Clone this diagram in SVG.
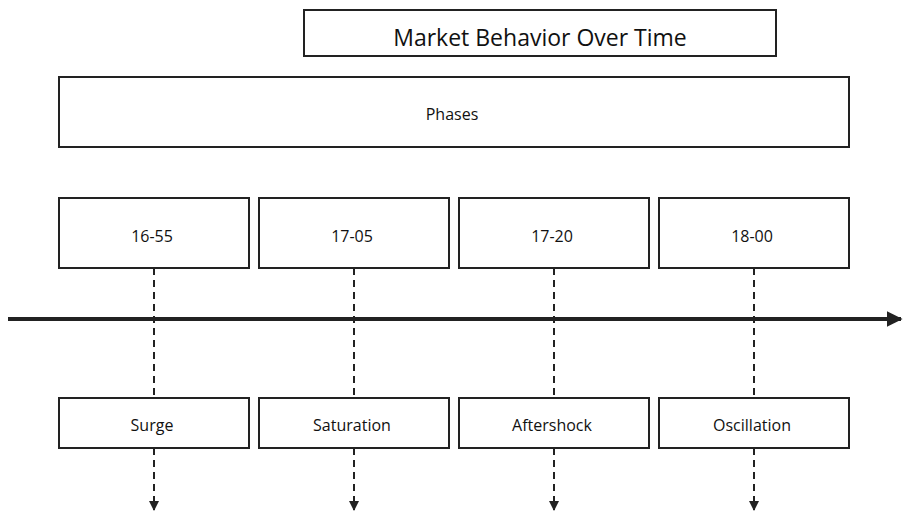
<svg xmlns="http://www.w3.org/2000/svg" width="909" height="520" viewBox="0 0 909 520">
<style>
.b{fill:#fff;stroke:#222;stroke-width:2}
.t{font-family:"Open Sans",sans-serif;font-size:16px;fill:#111;text-anchor:middle;dominant-baseline:central}
.d{stroke:#222;stroke-width:2;stroke-dasharray:7,5;fill:none}
</style>
<defs>
<marker id="a" viewBox="0 0 10 10" refX="9" refY="5" markerWidth="5" markerHeight="5" orient="auto" markerUnits="strokeWidth"><path d="M0,0L10,5L0,10Z" fill="#222"/></marker>
<marker id="a2" viewBox="0 0 10 10" refX="9" refY="5" markerWidth="4" markerHeight="4" orient="auto" markerUnits="strokeWidth"><path d="M0,0L10,5L0,10Z" fill="#222"/></marker>
</defs>
<rect width="909" height="520" fill="#fff"/>
<g id="connectors">
<line x1="8" y1="319" x2="901" y2="319" stroke="#222" stroke-width="4" marker-end="url(#a2)"/>
<line class="d" x1="154" y1="268" x2="154" y2="398"/><line class="d" x1="154" y1="448" x2="154" y2="510" marker-end="url(#a)"/>
<line class="d" x1="354" y1="268" x2="354" y2="398"/><line class="d" x1="354" y1="448" x2="354" y2="510" marker-end="url(#a)"/>
<line class="d" x1="554" y1="268" x2="554" y2="398"/><line class="d" x1="554" y1="448" x2="554" y2="510" marker-end="url(#a)"/>
<line class="d" x1="754" y1="268" x2="754" y2="398"/><line class="d" x1="754" y1="448" x2="754" y2="510" marker-end="url(#a)"/>
</g>
<g id="title"><rect class="b" x="304" y="10" width="472" height="46"/><text class="t" x="540" y="37" style="font-size:23px">Market Behavior Over Time</text></g>
<g id="phases"><rect class="b" x="59" y="77" width="790" height="70"/><text class="t" x="452" y="114">Phases</text></g>
<g id="t1"><rect class="b" x="59" y="198" width="190" height="70"/><text class="t" x="152" y="236">16-55</text></g>
<g id="t2"><rect class="b" x="259" y="198" width="190" height="70"/><text class="t" x="352" y="236">17-05</text></g>
<g id="t3"><rect class="b" x="459" y="198" width="190" height="70"/><text class="t" x="552" y="236">17-20</text></g>
<g id="t4"><rect class="b" x="659" y="198" width="190" height="70"/><text class="t" x="752" y="236">18-00</text></g>
<g id="p1"><rect class="b" x="59" y="398" width="190" height="50"/><text class="t" x="152" y="425">Surge</text></g>
<g id="p2"><rect class="b" x="259" y="398" width="190" height="50"/><text class="t" x="352" y="425">Saturation</text></g>
<g id="p3"><rect class="b" x="459" y="398" width="190" height="50"/><text class="t" x="552" y="425">Aftershock</text></g>
<g id="p4"><rect class="b" x="659" y="398" width="190" height="50"/><text class="t" x="752" y="425">Oscillation</text></g>
</svg>
